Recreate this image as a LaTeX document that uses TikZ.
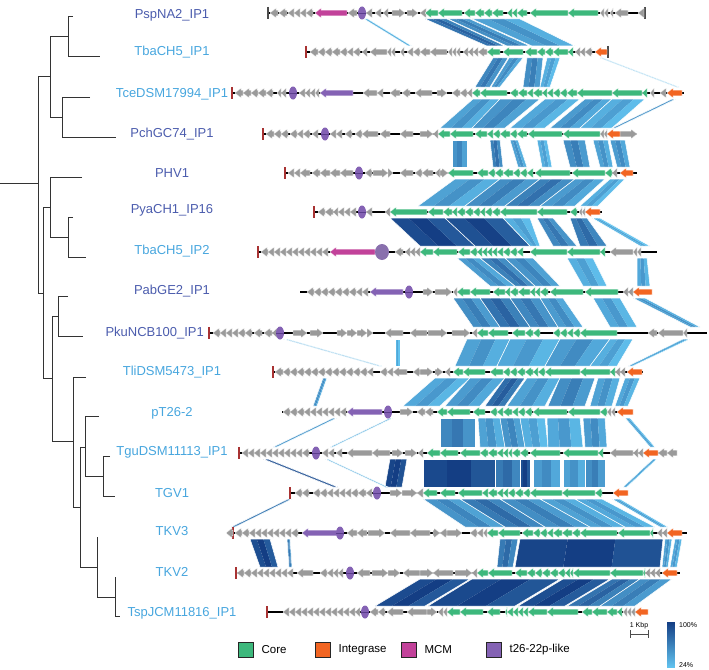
\documentclass[tikz,border=0pt]{standalone}
\usepackage{fontspec}
\setmainfont{Liberation Sans}
\usetikzlibrary{positioning}

\definecolor{genegray}{HTML}{9A9A9A}
\definecolor{core}{HTML}{3DB87C}
\definecolor{integ}{HTML}{F26522}
\definecolor{mcm}{HTML}{C2429A}
\definecolor{t26}{HTML}{8462B4}
\definecolor{t26dark}{HTML}{5A3D8C}
\definecolor{tickred}{HTML}{A83232}
\definecolor{labdark}{HTML}{4B5CAD}
\definecolor{lablight}{HTML}{47A6DE}
\definecolor{bandd}{HTML}{143E84}
\definecolor{bandl}{HTML}{62C3EF}

% gene arrows: tip/tail, y, colour
\newcommand{\genel}[4]{%
  \pgfmathsetmacro{\ghead}{min(6,#2-#1)}%
  \filldraw[fill=#4, draw=white, line width=0.3pt] (#1,#3) -- (#1+\ghead,#3-5) -- (#1+\ghead,#3-2.8) -- (#2,#3-2.8)
    -- (#2,#3+2.8) -- (#1+\ghead,#3+2.8) -- (#1+\ghead,#3+5) -- cycle;}
\newcommand{\gener}[4]{%
  \pgfmathsetmacro{\ghead}{min(6,#2-#1)}%
  \filldraw[fill=#4, draw=white, line width=0.3pt] (#2,#3) -- (#2-\ghead,#3-5) -- (#2-\ghead,#3-2.8) -- (#1,#3-2.8)
    -- (#1,#3+2.8) -- (#2-\ghead,#3+2.8) -- (#2-\ghead,#3+5) -- cycle;}
% small t26-22p-like orf
\newcommand{\orfdot}[2]{%
  \fill[t26] (#1,#2) ellipse [x radius=4, y radius=6.5];
  \draw[t26dark, line width=0.8pt] (#1-4,#2) -- (#1+4,#2);}
% homology band between two tracks, in three stripes
\newcommand{\band}[7]{%
  \pgfmathsetmacro{\bpa}{#2+(#3-#2)/3}\pgfmathsetmacro{\bpb}{#2+2*(#3-#2)/3}%
  \pgfmathsetmacro{\bqa}{#5+(#6-#5)/3}\pgfmathsetmacro{\bqb}{#5+2*(#6-#5)/3}%
  \pgfmathtruncatemacro{\shu}{min(100,#7+12)}\pgfmathtruncatemacro{\shd}{max(0,#7-10)}%
  \fill[bandd!#7!bandl] (#2,#1+6) -- (\bpa,#1+6) -- (\bqa,#4-6) -- (#5,#4-6) -- cycle;
  \fill[bandd!\shu!bandl] (\bpa,#1+6) -- (\bpb,#1+6) -- (\bqb,#4-6) -- (\bqa,#4-6) -- cycle;
  \fill[bandd!\shd!bandl] (\bpb,#1+6) -- (#3,#1+6) -- (#6,#4-6) -- (\bqb,#4-6) -- cycle;
  \draw[white, line width=0.5pt] (#2,#1+6) -- (#3,#1+6) -- (#6,#4-6) -- (#5,#4-6) -- cycle;}
\newcommand{\track}[3]{\draw[backbone] (#2,#1) -- (#3,#1);}
\newcommand{\lend}[3][tickred]{\draw[#1, line width=1.1pt] (#2,#3-6) -- (#2,#3+6);}

\begin{document}
\begin{tikzpicture}[x=1pt, y=-1pt,
    backbone/.style={black, line width=1.2pt},
    tree/.style={draw=black!80, line width=0.8pt},
    lab/.style={font=\fontsize{13}{15}\selectfont, inner sep=0pt},
    legbox/.style={draw=black!85, line width=0.8pt, minimum size=15pt, inner sep=0pt},
    legtext/.style={font=\fontsize{11.5}{13}\selectfont, inner sep=0pt}]
  \useasboundingbox (0,0) rectangle (709,669);

  % homology bands
  \foreach \ya/\a/\b/\yb/\c/\d/\s in {
    13/425/447/52/487/505/60, 13/448/470/52/507/530/40, 13/472/520/52/532/575/25, 13/364/368/52/408/412/10,
    52/493/508/93/475/490/45, 52/509/523/93/491/500/30, 52/527/543/93/523/540/40, 52/547/560/93/540/550/15, 52/600/603/93/676/679/10,
    93/473/500/134/440/473/25, 93/500/540/134/472/505/35, 93/545/580/134/510/545/20, 93/585/612/134/550/580/30, 93/612/645/134/580/612/15, 93/672/676/134/612/616/35,
    134/452/467/173/452/467/35, 134/490/500/173/493/503/50, 134/510/518/173/518/527/25, 134/537/547/173/542/552/15, 134/563/585/173/570/590/40, 134/593/608/173/600/613/25, 134/610/625/173/617/630/30,
    173/455/500/212/418/465/25, 173/500/540/212/465/505/40, 173/540/575/212/505/540/50, 173/575/605/212/540/575/30, 173/610/625/212/580/598/15,
    212/390/445/252/420/475/90, 212/445/503/252/475/530/86, 212/503/530/252/530/540/15, 212/537/553/252/553/577/45, 212/570/587/252/580/607/55, 212/592/600/252/640/650/10,
    252/457/480/292/490/515/30, 252/480/505/292/515/535/50, 252/505/533/292/535/560/35, 252/567/593/292/583/607/15, 252/637/647/292/637/650/20,
    292/453/480/333/473/500/40, 292/480/510/333/500/530/60, 292/510/540/333/530/558/45, 292/540/563/333/558/583/30, 292/593/620/333/610/637/20, 292/633/645/333/690/700/25,
    333/467/510/372/455/497/25, 333/510/560/372/497/545/20, 333/560/610/372/545/590/30, 333/610/633/372/590/617/15, 333/283/287/372/378/382/15, 333/395/400/372/395/400/10, 333/683/690/372/628/633/15,
    372/435/470/412/403/440/20, 372/470/505/412/445/480/30, 372/505/525/412/485/505/65, 372/527/560/412/507/545/25, 372/560/595/412/548/585/40, 372/598/620/412/590/612/25, 372/625/640/412/615/628/20, 372/323/327/412/313/317/30,
    412/440/475/453/440/475/45, 412/478/500/453/480/505/25, 412/500/520/453/505/525/35, 412/520/545/453/525/548/15, 412/547/580/453/548/583/20, 412/583/605/453/585/607/30, 412/625/630/453/650/655/15, 412/333/337/453/273/277/30, 412/390/393/453/330/333/15,
    453/390/407/493/385/402/95, 453/423/495/493/423/495/92, 453/495/520/493/495/520/55, 453/520/530/493/520/530/88, 453/533/560/493/533/560/30, 453/563/585/493/563/585/25, 453/585/605/493/585/605/40, 453/263/268/493/333/338/85, 453/325/328/493/385/388/15, 453/653/657/493/623/627/15,
    493/423/460/533/465/505/35, 493/460/500/533/505/545/55, 493/500/540/533/545/590/40, 493/540/575/533/590/625/25, 493/575/602/533/625/655/20, 493/612/620/533/660/668/15, 493/288/292/533/231/235/55,
    533/500/518/573/497/513/55, 533/520/663/573/515/660/95, 533/665/672/573/662/668/25, 533/675/682/573/670/677/20, 533/250/270/573/260/278/88, 533/287/290/573/289/292/45,
    573/420/470/612/375/425/90, 573/472/560/612/428/515/92, 573/563/610/612/518/565/88, 573/612/640/612/567/600/60, 573/640/672/612/600/635/40}
    {\band{\ya}{\a}{\b}{\yb}{\c}{\d}{\s}}

  % PspNA2_IP1
  \track{13}{268}{645}
  \lend[black!70]{268}{13} \lend[black!70]{645}{13}
  \foreach \a/\b in {270/278,279/287,288/294,294/300,300/306,306/313,348/357,366/372,375/381,383/388,420/426,600/604,604/608,610/613,615/628,638/644}
    {\genel{\a}{\b}{13}{genegray}}
  \foreach \a/\b in {392/405,407/418} {\gener{\a}{\b}{13}{genegray}}
  \genel{315}{347}{13}{mcm}
  \orfdot{362}{13}
  \foreach \a/\b in {425/438,438/462,464/475,475/484,484/492,492/503,507/512,512/517,517/527,530/568,568/598}
    {\genel{\a}{\b}{13}{core}}

  % TbaCH5_IP1
  \track{52}{306}{608}
  \lend{306}{52} \lend[black!70]{608}{52}
  \foreach \a/\b in {310/318,318/325,325/332,332/340,340/347,347/353,353/360,362/367,370/387,387/391,391/395,400/404,407/413,413/420,420/430,430/447,448/452,452/456,456/460,463/468,468/473,473/478,478/487,575/580,580/585,585/592}
    {\genel{\a}{\b}{52}{genegray}}
  \foreach \a/\b in {487/500,503/523,525/537,537/545,545/553,553/568,568/573} {\genel{\a}{\b}{52}{core}}
  \genel{595}{607}{52}{integ}

  % TceDSM17994_IP1
  \track{93}{232}{684}
  \lend{232}{93}
  \foreach \a/\b in {235/243,243/251,251/258,258/266,266/273,277/281,281/286,299/305,305/310,310/315,315/319,363/377,377/383,390/400,402/410,415/432,452/460,460/467,467/472,650/654,660/666}
    {\genel{\a}{\b}{93}{genegray}}
  \gener{437}{447}{93}{genegray}
  \orfdot{293}{93}
  \genel{320}{353}{93}{t26}
  \foreach \a/\b in {472/480,480/507,510/518,518/527,527/533,533/542,542/547,547/553,553/560,560/567,567/577,577/612,612/642,642/647}
    {\genel{\a}{\b}{93}{core}}
  \genel{667}{682}{93}{integ}

  % PchGC74_IP1
  \track{134}{263}{637}
  \lend{263}{134}
  \foreach \a/\b in {266/274,274/281,281/288,290/297,297/303,303/310,312/318,330/336,336/342,345/352,355/362,362/378,380/390,400/413,433/438,600/604,604/607}
    {\genel{\a}{\b}{134}{genegray}}
  \foreach \a/\b in {420/433,620/637} {\gener{\a}{\b}{134}{genegray}}
  \orfdot{325}{134}
  \foreach \a/\b in {438/450,450/473,475/487,487/493,493/500,500/510,510/517,517/527,528/562,563/600}
    {\genel{\a}{\b}{134}{core}}
  \genel{607}{620}{134}{integ}

  % PHV1
  \track{173}{285}{637}
  \lend{285}{173}
  \foreach \a/\b in {288/294,294/300,300/310,312/320,320/330,330/340,340/353,365/372,400/413,415/422,422/433,435/440,612/617}
    {\genel{\a}{\b}{173}{genegray}}
  \foreach \a/\b in {373/388,388/393,440/448} {\gener{\a}{\b}{173}{genegray}}
  \orfdot{359}{173}
  \foreach \a/\b in {448/473,477/488,488/495,495/503,503/513,513/520,520/527,527/533,535/570,572/605,605/612}
    {\genel{\a}{\b}{173}{core}}
  \genel{620}{633}{173}{integ}

  % PyaCH1_IP16
  \track{212}{314}{602}
  \lend{314}{212}
  \foreach \a/\b in {318/325,325/333,333/338,338/344,344/350,350/356,366/372,385/390,579/582,582/585}
    {\genel{\a}{\b}{212}{genegray}}
  \orfdot{362}{212}
  \foreach \a/\b in {390/427,428/443,443/452,452/457,457/465,465/473,473/480,480/485,485/492,492/500,500/537,537/567,570/577}
    {\genel{\a}{\b}{212}{core}}
  \genel{585}{600}{212}{integ}

  % TbaCH5_IP2
  \track{252}{258}{657}
  \lend{258}{252}
  \foreach \a/\b in {261/268,268/274,274/280,280/286,286/292,292/298,298/304,304/310,310/316,316/322,322/328,395/403,405/410,410/415,415/420,610/633,633/637,637/641}
    {\genel{\a}{\b}{252}{genegray}}
  \genel{330}{375}{252}{mcm}
  \fill[t26!75!genegray] (382,252) ellipse [x radius=7, y radius=8];
  \foreach \a/\b in {420/433,433/457,458/470,470/477,477/482,482/487,487/492,492/497,497/503,503/510,510/517,517/523,530/567,567/600,600/605}
    {\genel{\a}{\b}{252}{core}}

  % PabGE2_IP1
  \track{292}{300}{652}
  \foreach \a/\b in {307/314,314/321,321/328,328/335,335/342,342/349,349/356,356/362,362/368,453/457,623/628,628/633}
    {\genel{\a}{\b}{292}{genegray}}
  \foreach \a/\b in {423/433,435/452} {\gener{\a}{\b}{292}{genegray}}
  \genel{370}{403}{292}{t26}
  \orfdot{409}{292}
  \foreach \a/\b in {457/470,470/490,493/505,505/510,510/518,518/530,530/535,535/540,540/548,550/583,585/618}
    {\genel{\a}{\b}{292}{core}}
  \genel{633}{652}{292}{integ}

  % PkuNCB100_IP1
  \track{333}{209}{707}
  \lend{209}{333}
  \foreach \a/\b in {213/220,220/226,226/232,232/238,238/245,245/252,254/262,264/272,272/277,385/403,410/427,472/477,648/657,658/683,683/687}
    {\genel{\a}{\b}{333}{genegray}}
  \foreach \a/\b in {293/307,310/323,337/347,347/357,357/367,367/373,428/447,452/470} {\gener{\a}{\b}{333}{genegray}}
  \orfdot{280}{333}
  \foreach \a/\b in {477/488,488/508,512/525,525/533,533/540,553/560,560/567,567/573,573/580,580/617}
    {\genel{\a}{\b}{333}{core}}

  % TliDSM5473_IP1
  \track{372}{273}{643}
  \lend{273}{372}
  \foreach \a/\b in {275/283,283/290,290/297,297/304,304/311,311/318,318/325,325/332,332/339,339/346,346/353,353/360,360/367,367/373,380/387,387/393,393/407,413/420,445/450,615/620,620/625}
    {\genel{\a}{\b}{372}{genegray}}
  \foreach \a/\b in {420/433,435/443} {\gener{\a}{\b}{372}{genegray}}
  \foreach \a/\b in {453/463,463/485,490/503,503/510,510/517,517/525,525/533,533/538,538/545,545/580,580/610,610/615}
    {\genel{\a}{\b}{372}{core}}
  \genel{627}{642}{372}{integ}

  % pT26-2
  \track{412}{282}{633}
  \foreach \a/\b in {283/290,290/297,297/304,304/310,310/316,316/322,322/328,328/334,334/340,340/346,417/425,425/433,607/611,611/615}
    {\genel{\a}{\b}{412}{genegray}}
  \gener{400}{413}{412}{genegray}
  \genel{347}{382}{412}{t26}
  \orfdot{388}{412}
  \foreach \a/\b in {437/447,447/470,473/485,490/497,497/503,503/512,512/518,518/525,525/532,533/567,568/600,600/607}
    {\genel{\a}{\b}{412}{core}}
  \genel{617}{633}{412}{integ}

  % TguDSM11113_IP1
  \track{453}{239}{677}
  \lend{239}{453}
  \foreach \a/\b in {242/248,248/254,254/260,260/266,266/272,272/278,278/284,284/290,290/296,296/302,302/309,322/328,328/334,336/342,347/372,372/390,418/423,610/633,633/638,638/643,658/667,667/677}
    {\genel{\a}{\b}{453}{genegray}}
  \foreach \a/\b in {392/403,405/417} {\gener{\a}{\b}{453}{genegray}}
  \orfdot{316}{453}
  \foreach \a/\b in {427/440,440/458,460/480,480/488,488/497,497/503,503/508,508/512,512/520,520/528,530/560,563/598,598/603}
    {\genel{\a}{\b}{453}{core}}
  \genel{643}{658}{453}{integ}

  % TGV1
  \track{493}{290}{628}
  \lend{290}{493}
  \foreach \a/\b in {295/302,302/309,313/320,320/327,327/333,333/339,339/345,345/351,351/358,358/366,366/372,417/423}
    {\genel{\a}{\b}{493}{genegray}}
  \foreach \a/\b in {390/402,402/417} {\gener{\a}{\b}{493}{genegray}}
  \orfdot{377}{493}
  \foreach \a/\b in {423/437,440/455,458/482,482/488,488/497,497/503,503/508,508/515,515/523,523/530,530/562,562/595,595/602}
    {\genel{\a}{\b}{493}{core}}
  \genel{613}{628}{493}{integ}

  % TKV3
  \track{533}{233}{687}
  \lend{233}{533}
  \foreach \a/\b in {226/233,235/242,242/249,249/255,255/261,261/267,267/273,273/279,279/285,285/291,291/298,347/357,357/367,390/410,410/430,440/447,470/477,477/483,483/487,657/662,662/667}
    {\genel{\a}{\b}{533}{genegray}}
  \foreach \a/\b in {368/385,433/440,447/462} {\gener{\a}{\b}{533}{genegray}}
  \genel{302}{337}{533}{t26}
  \orfdot{340}{533}
  \foreach \a/\b in {487/498,498/520,522/533,533/540,540/547,547/553,553/562,562/572,572/580,580/617,618/650,650/653}
    {\genel{\a}{\b}{533}{core}}
  \genel{667}{682}{533}{integ}

  % TKV2
  \track{573}{236}{680}
  \lend{236}{573}
  \foreach \a/\b in {237/244,244/251,251/257,257/263,263/269,269/275,275/281,281/287,287/293,297/313,320/327,327/333,333/338,338/343,357/370,403/420,433/453,472/477,645/650,650/655,655/660}
    {\genel{\a}{\b}{573}{genegray}}
  \foreach \a/\b in {372/388,388/400,420/433,455/472} {\gener{\a}{\b}{573}{genegray}}
  \orfdot{350}{573}
  \foreach \a/\b in {477/488,488/512,515/527,527/535,535/542,542/550,550/558,558/565,565/570,570/573,573/610,610/643,643/645}
    {\genel{\a}{\b}{573}{core}}
  \genel{662}{677}{573}{integ}

  % TspJCM11816_IP1
  \track{612}{267}{648}
  \lend{267}{612}
  \foreach \a/\b in {283/289,289/295,295/301,301/307,307/313,313/319,319/325,325/331,331/337,337/343,343/349,349/355,355/360,370/378,378/385,387/403,407/427,438/443,443/447,623/627,627/631,631/635}
    {\genel{\a}{\b}{612}{genegray}}
  \gener{427}{437}{612}{genegray}
  \orfdot{365}{612}
  \foreach \a/\b in {447/460,460/483,487/500,505/507,507/513,513/518,518/523,523/528,528/547,547/578,582/592,592/607,607/617,617/622}
    {\genel{\a}{\b}{612}{core}}
  \genel{635}{648}{612}{integ}

  % tree
  \draw[tree] (0,183) -- (38,183);
  \draw[tree] (50,76) -- (38,76) -- (38,293) -- (43,293);
  \draw[tree] (68,36) -- (50,36) -- (50,117) -- (62,117);
  \draw[tree] (73,16) -- (68,16) -- (68,56) -- (100,56);
  \draw[tree] (90,97) -- (62,97) -- (62,137) -- (116,137);
  \draw[tree] (50,207) -- (43,207) -- (43,378) -- (52,378);
  \draw[tree] (82,177) -- (50,177) -- (50,237) -- (68,237);
  \draw[tree] (73,217) -- (68,217) -- (68,257) -- (86,257);
  \draw[tree] (58,316) -- (52,316) -- (52,441) -- (73,441);
  \draw[tree] (68,296) -- (58,296) -- (58,336) -- (83,336);
  \draw[tree] (86,377) -- (73,377) -- (73,507) -- (80,507);
  \draw[tree] (85,447) -- (80,447) -- (80,567) -- (97,567);
  \draw[tree] (99,416) -- (85,416) -- (85,476) -- (103,476);
  \draw[tree] (110,456) -- (103,456) -- (103,496) -- (115,496);
  \draw[tree] (97,537) -- (97,597) -- (115,597);
  \draw[tree] (115,577) -- (115,616) -- (120,616);

  % names
  \node[lab, text=labdark] (pspna) at (172,15) {PspNA2\_IP1};
  \node[lab, text=lablight] (tbaone) at (172,52) {TbaCH5\_IP1};
  \node[lab, text=lablight] (tce) at (172,94) {TceDSM17994\_IP1};
  \node[lab, text=labdark] (pch) at (172,134) {PchGC74\_IP1};
  \node[lab, text=labdark] (phv) at (172,173) {PHV1};
  \node[lab, text=labdark] (pya) at (172,210) {PyaCH1\_IP16};
  \node[lab, text=lablight] (tbatwo) at (172,251) {TbaCH5\_IP2};
  \node[lab, text=labdark] (pab) at (172,291) {PabGE2\_IP1};
  \node[lab, text=labdark, anchor=east] (pku) at (204,333) {PkuNCB100\_IP1};
  \node[lab, text=lablight] (tli) at (172,372) {TliDSM5473\_IP1};
  \node[lab, text=lablight] (ptt) at (172,413) {pT26-2};
  \node[lab, text=lablight] (tgu) at (172,452) {TguDSM11113\_IP1};
  \node[lab, text=lablight] (tgv) at (172,493) {TGV1};
  \node[lab, text=lablight] (tkvthree) at (172,531) {TKV3};
  \node[lab, text=lablight] (tkvtwo) at (172,572) {TKV2};
  \node[lab, text=lablight] (tsp) at (182,613) {TspJCM11816\_IP1};

  % legend
  \node[legbox, fill=core] (kcore) at (245.5,650) {};
  \node[legtext, right=8pt of kcore] (tcore) {Core};
  \node[legbox, fill=integ] (kint) at (322.5,650) {};
  \node[legtext, right=8pt of kint] (tint) {Integrase};
  \node[legbox, fill=mcm] (kmcm) at (408.5,650) {};
  \node[legtext, right=8pt of kmcm] (tmcm) {MCM};
  \node[legbox, fill=t26] (ktt) at (493.5,650) {};
  \node[legtext, right=8pt of ktt] (ttt) {t26-22p-like};

  % scale bar and identity key
  \coordinate (sba) at (630,634);
  \coordinate (sbb) at (648,634);
  \draw[black!70, line width=0.6pt] (sba) -- (sbb) (630,630) -- (630,638) (648,630) -- (648,638);
  \node[font=\fontsize{7}{8}\selectfont, inner sep=0pt] (kbp) at (639,626) {1 Kbp};
  \foreach \i in {0,...,45} {
    \pgfmathsetmacro{\pc}{100-100*\i/45}
    \fill[bandd!\pc!bandl] (667,622+\i) rectangle (675,623.2+\i);}
  \node[font=\fontsize{7}{8}\selectfont, anchor=west, inner sep=0pt] (hundred) at (679,625) {100\%};
  \node[font=\fontsize{7}{8}\selectfont, anchor=west, inner sep=0pt] (low) at (679,665) {24\%};
\end{tikzpicture}
\end{document}
